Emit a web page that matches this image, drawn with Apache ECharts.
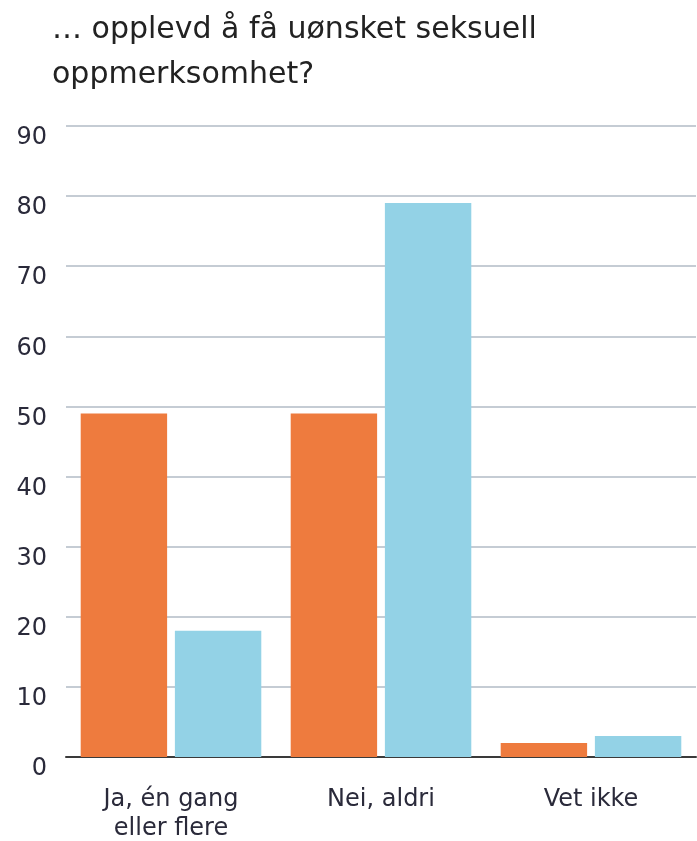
<!DOCTYPE html>
<html>
<head>
<meta charset="utf-8">
<script src="https://cdn.jsdelivr.net/npm/echarts@6/dist/echarts.min.js"></script>
<style>
  html, body { margin: 0; padding: 0; background: #fff; }
  #chart { width: 697px; height: 841px; }
</style>
</head>
<body>
<div id="chart"></div>
<script>
  var categories = ['Ja, én gang\neller flere', 'Nei, aldri', 'Vet ikke'];
  var seriesA = [49, 49, 2];
  var seriesB = [18, 79, 3];
  var yTicks = [0, 10, 20, 30, 40, 50, 60, 70, 80, 90];

  var myChart = echarts.init(document.getElementById('chart'));

  var option = {
    backgroundColor: '#ffffff',
    color: ['#EE7B3E', '#93D2E6'],
    title: {
      text: '… opplevd å få uønsket seksuell\noppmerksomhet?',
      left: 52,
      top: 8,
      padding: 0,
      textStyle: {
        fontFamily: 'DejaVu Sans',
        fontWeight: 'normal',
        fontSize: 30,
        lineHeight: 45,
        color: '#222222'
      }
    },
    grid: {
      left: 66,
      right: 1,
      top: 126,
      bottom: 84,
      outerBoundsMode: 'none',
      containLabel: false
    },
    xAxis: {
      type: 'category',
      data: categories,
      axisTick: { show: false },
      axisLine: { lineStyle: { color: '#3a3a3a', width: 2 } },
      axisLabel: {
        fontFamily: 'DejaVu Sans',
        fontSize: 24,
        lineHeight: 29,
        color: '#2a2a3a',
        margin: 28
      }
    },
    yAxis: {
      type: 'value',
      min: yTicks[0],
      max: yTicks[yTicks.length - 1],
      interval: 10,
      axisLine: { show: false },
      axisTick: { show: false },
      splitLine: { lineStyle: { color: '#c5ccd4', width: 2 } },
      axisLabel: {
        fontFamily: 'DejaVu Sans',
        fontSize: 24,
        color: '#2a2a3a',
        margin: 19,
        verticalAlign: 'top'
      }
    },
    series: [
      {
        name: 'A',
        type: 'bar',
        data: seriesA,
        barGap: '9%',
        barCategoryGap: '14%'
      },
      {
        name: 'B',
        type: 'bar',
        data: seriesB
      }
    ]
  };

  myChart.setOption(option);
</script>
</body>
</html>
